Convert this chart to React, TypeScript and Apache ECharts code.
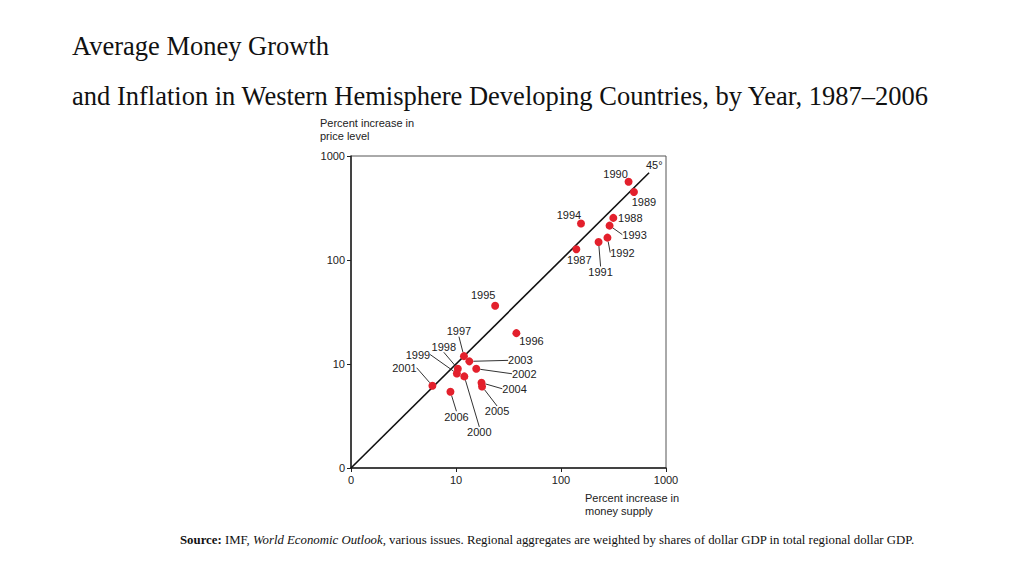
import React, { useEffect, useRef } from "react";
import * as echarts from "echarts";

const years = [
  "1987", "1988", "1989", "1990", "1991", "1992", "1993", "1994", "1995", "1996",
  "1997", "1998", "1999", "2000", "2001", "2002", "2003", "2004", "2005", "2006",
];
// percent increase in money supply
const moneyGrowth = [
  140, 315, 495, 440, 228, 277, 290, 155, 23.6, 37.6,
  11.9, 10.4, 10.2, 12.0, 5.96, 15.6, 13.4, 17.5, 17.7, 8.85,
];
// percent increase in price level
const inflation = [
  127, 254, 451, 566, 149, 164, 214, 224, 36.3, 19.8,
  11.9, 9.0, 8.1, 7.6, 6.18, 9.0, 10.6, 6.6, 6.08, 5.41,
];
const tickValues = [1, 10, 100, 1000];
const tickLabels = ["0", "10", "100", "1000"];
const diagonalEnd = 690;

// label placement (offset of label centre from point, and leader line flag)
const labelPlacement: Record<string, [number, number, boolean]> = {
  "1987": [3, 11, false],
  "1988": [17, 0, false],
  "1989": [10, 10, false],
  "1990": [-13, -8, false],
  "1991": [2, 30, true],
  "1992": [15, 15, true],
  "1993": [25, 9, true],
  "1994": [-12, -9, false],
  "1995": [-12, -11, false],
  "1996": [15, 8, false],
  "1997": [-5, -25, true],
  "1998": [-14, -22, true],
  "1999": [-39, -19, true],
  "2000": [15, 56, true],
  "2001": [-28, -18, true],
  "2002": [48, 5, true],
  "2003": [51, -1, true],
  "2004": [33, 6, true],
  "2005": [15, 25, true],
  "2006": [6, 25, true],
};

const fmt = (v: number) => {
  const i = tickValues.indexOf(v);
  return i >= 0 ? tickLabels[i] : "";
};

export default function App() {
  const ref = useRef<HTMLDivElement>(null);
  useEffect(() => {
    if (!ref.current) return;
    const chart = echarts.init(ref.current, undefined, { renderer: "svg" });
    const sans = "Liberation Sans, Arial, sans-serif";
    const serif = "Liberation Serif, Times New Roman, serif";
    const points = years.map((y, i) => ({
      name: y,
      value: [moneyGrowth[i], inflation[i]],
      labelLine: { show: labelPlacement[y][2] },
    }));
    chart.setOption({
      animation: false,
      backgroundColor: "#ffffff",
      grid: {
        left: 351,
        top: 156,
        width: 315,
        height: 312,
        show: true,
        borderColor: "#555",
        borderWidth: 1,
      },
      xAxis: {
        type: "log",
        logBase: 10,
        min: 1,
        max: 1000,
        axisLine: { lineStyle: { color: "#222", width: 1.5 } },
        axisTick: { show: true, length: 4, lineStyle: { color: "#222" } },
        axisLabel: { formatter: fmt, color: "#222", fontSize: 11, fontFamily: sans, margin: 6 },
        splitLine: { show: false },
        minorTick: { show: false },
      },
      yAxis: {
        type: "log",
        logBase: 10,
        min: 1,
        max: 1000,
        axisLine: { show: true, lineStyle: { color: "#222", width: 1.5 } },
        axisTick: { show: true, length: 4, lineStyle: { color: "#222" } },
        axisLabel: { formatter: fmt, color: "#222", fontSize: 11, fontFamily: sans, margin: 6 },
        splitLine: { show: false },
      },
      series: [
        {
          type: "line",
          data: [
            [1, 1],
            [diagonalEnd, diagonalEnd],
          ],
          clip: false,
          showSymbol: false,
          symbol: "none",
          lineStyle: { color: "#111", width: 1.6 },
          z: 2,
        },
        {
          type: "scatter",
          data: points,
          symbolSize: 8,
          itemStyle: { color: "#e3202c", opacity: 1 },
          z: 3,
          label: {
            show: true,
            position: "inside",
            formatter: "{b}",
            color: "#222",
            textBorderWidth: 0,
            textBorderColor: "transparent",
            fontSize: 11,
            fontFamily: sans,
          },
          labelLine: { show: true, lineStyle: { color: "#333", width: 1 } },
          labelLayout: (p: any) => {
            const pl = labelPlacement[years[p.dataIndex]];
            return { dx: pl[0], dy: pl[1] };
          },
        },
      ],
      graphic: [
        {
          type: "text",
          left: 72,
          top: 32,
          style: { text: "Average Money Growth", font: `26.5px ${serif}`, fill: "#111" },
        },
        {
          type: "text",
          left: 72,
          top: 82,
          style: {
            text: "and Inflation in Western Hemisphere Developing Countries, by Year, 1987–2006",
            font: `26.5px ${serif}`,
            fill: "#111",
          },
        },
        {
          type: "text",
          left: 646,
          top: 159,
          z: 10,
          style: { text: "45°", font: `11px ${sans}`, fill: "#222" },
        },
        {
          type: "text",
          left: 320,
          top: 116,
          style: {
            text: "Percent increase in\nprice level",
            font: `11px ${sans}`,
            fill: "#222",
            lineHeight: 13,
          },
        },
        {
          type: "text",
          left: 585,
          top: 491,
          style: {
            text: "Percent increase in\nmoney supply",
            font: `11px ${sans}`,
            fill: "#222",
            lineHeight: 13,
          },
        },
        {
          type: "text",
          left: 180,
          top: 533,
          style: {
            text:
              "{b|Source:} IMF, {i|World Economic Outlook}, various issues. Regional aggregates are weighted by shares of dollar GDP in total regional dollar GDP.",
            font: `12.8px ${serif}`,
            fill: "#111",
            rich: {
              b: { fontWeight: "bold", fontFamily: serif, fontSize: 12.8, fill: "#111" },
              i: { fontStyle: "italic", fontFamily: serif, fontSize: 12.8, fill: "#111" },
            },
          },
        },
      ],
    });
    return () => chart.dispose();
  }, []);
  return (
    <div
      ref={ref}
      style={{ position: "fixed", left: 0, top: 0, width: 1024, height: 576, background: "#fff" }}
    />
  );
}
